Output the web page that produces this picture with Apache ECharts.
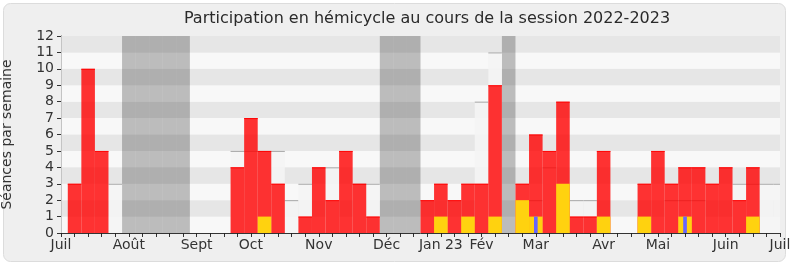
<!DOCTYPE html>
<html><head><meta charset="utf-8">
<script src="https://cdn.jsdelivr.net/npm/echarts@6/dist/echarts.min.js"></script>
<style>html,body{margin:0;padding:0;background:#fff;} #c{width:790px;height:267px;}</style>
</head><body><div id="c"></div>
<script>
// ---- data ----
const titleText = 'Participation en hémicycle au cours de la session 2022-2023';
const yAxisName = 'Séances par semaine';
const monthLabels = ['Juil','Août','Sept','Oct','Nov','Déc','Jan 23','Fév','Mar','Avr','Mai','Juin','Juil'];
const monthWeeks  = [0, 5, 10, 14, 19, 24, 28, 31, 35, 40, 44, 49, 53];
const weeks = [1,2,3,4,5,6,7,8,9,10,11,12,13,14,15,16,17,18,19,20,21,22,23,24,25,26,27,28,29,30,31,32,33,34,35,36,37,38,39,40,41,42,43,44,45,46,47,48,49,50,51,52,53];
// red: séances de présence
const presence  = [3,10,5,0,0,0,0,0,0,0,0,0,4,7,5,3,0,1,4,2,5,3,1,0,0,0,2,3,2,3,3,9,0,3,6,5,8,1,1,5,0,0,3,5,3,4,4,3,4,2,4,0,0];
// yellow: questions / interventions
const questions = [0,0,0,0,0,0,0,0,0,0,0,0,0,0,1,0,0,0,0,0,0,0,0,0,0,0,0,1,0,1,0,1,0,2,1,0,3,0,0,1,0,0,1,0,0,1,0,0,0,0,1,0,0];
// blue: autres
const others    = [0,0,0,0,0,0,0,0,0,0,0,0,0,0,0,0,0,0,0,0,0,0,0,0,0,0,0,0,0,0,0,0,0,0,1,0,0,0,0,0,0,0,0,0,0,1,0,0,0,0,0,0,0];
// gray: moyenne des députés (null = not visible)
const average   = [null,null,null,3,null,null,null,null,null,null,null,null,5,5,5,5,2,3,null,4,null,3,3,null,null,null,null,null,null,null,8,11,null,null,2,4,null,2,2,null,null,null,null,null,2,2,2,null,null,3,3,3,3];
const vacationWeeks = [5,6,7,8,9,24,25,26,33];

// ---- chart ----
const chart = echarts.init(document.getElementById('c'), null, {renderer:'canvas'});
const FONT = 'DejaVu Sans';

function pairs(vals){ return weeks.map((w,i)=>[w, vals[i]]).filter(d=>d[1]!=null && d[1]>0); }

function barRender(fill, topStroke, frac){
  return function(params, api){
    const x = api.value(0), v = api.value(1);
    const p0 = api.coord([x - frac/2, 0]);
    const p1 = api.coord([x + frac/2, v]);
    const r = {x:p0[0], y:p1[1], width:p1[0]-p0[0], height:p0[1]-p1[1]};
    const ch = [{type:'rect', shape:r, style:{fill:fill}}];
    if (topStroke) ch.push({type:'line', shape:{x1:r.x, y1:r.y+0.5, x2:r.x+r.width, y2:r.y+0.5}, style:{stroke:topStroke, lineWidth:1}});
    return {type:'group', children:ch};
  };
}

const option = {
  animation:false,
  backgroundColor:'#ffffff',
  graphic:[
    {type:'rect', z:-10, silent:true, shape:{x:3.5, y:3.5, width:782, height:258, r:7}, style:{fill:'#efefef', stroke:'#dcdcdc', lineWidth:1}},
    {type:'text', x:427, y:19, style:{text:titleText, font:'16px "DejaVu Sans"', fill:'#2a2a2a', align:'center', verticalAlign:'middle'}}
  ],
  grid:{left:61, right:10, top:36, bottom:34, containLabel:false, outerBoundsMode:'none'},
  xAxis:[
    {type:'value', position:'bottom', min:0, max:53, interval:1,
     axisLine:{show:true, lineStyle:{color:'#333', width:1}},
     axisTick:{show:true, length:4, lineStyle:{color:'#333'}},
     axisLabel:{show:true, customValues:monthWeeks, margin:5, color:'#333', fontFamily:FONT, fontSize:14,
       formatter:function(v){ const i = monthWeeks.indexOf(Math.round(v)); return i>=0 ? monthLabels[i] : ''; }},
     splitLine:{show:false}},
    {type:'value', position:'top', min:0, max:53, interval:1,
     axisLine:{show:false}, axisTick:{show:true, inside:true, length:1.5, lineStyle:{color:'#222'}},
     axisLabel:{show:false}, splitLine:{show:false}}
  ],
  yAxis:[
    {type:'value', min:0, max:12, interval:1, name:yAxisName, nameLocation:'middle', nameGap:47,
     nameTextStyle:{fontFamily:FONT, fontSize:14, color:'#333'},
     axisLine:{show:true, lineStyle:{color:'#333'}},
     axisTick:{show:true, length:4, lineStyle:{color:'#333'}},
     axisLabel:{margin:7, color:'#333', fontFamily:FONT, fontSize:14},
     splitLine:{show:false},
     splitArea:{show:true, areaStyle:{color:['#f8f8f8','#e6e6e6']}}},
    {type:'value', position:'right', min:0, max:12, interval:1,
     axisLine:{show:true, lineStyle:{color:'#c4c4c4'}}, axisTick:{show:false}, axisLabel:{show:false}, splitLine:{show:false}}
  ],
  series:[
    {type:'custom', name:'vacances', clip:true, z:2, data:vacationWeeks.map(w=>[w,12]), renderItem:barRender('rgba(0,0,0,0.24)', null, 1)},
    {type:'custom', name:'moyenne', clip:true, z:3, data:pairs(average), renderItem:barRender('rgba(244,244,244,0.9)', '#a8a8a8', 1)},
    {type:'custom', name:'présence', clip:true, z:4, data:pairs(presence), renderItem:barRender('rgba(255,0,0,0.8)', 'rgba(255,0,0,0.9)', 1)},
    {type:'custom', name:'questions', clip:true, z:5, data:pairs(questions), renderItem:barRender('#ffd20f', null, 1)},
    {type:'custom', name:'autres', clip:true, z:6, data:pairs(others), renderItem:barRender('#6666ff', null, 0.27)}
  ]
};
chart.setOption(option);
</script></body></html>
